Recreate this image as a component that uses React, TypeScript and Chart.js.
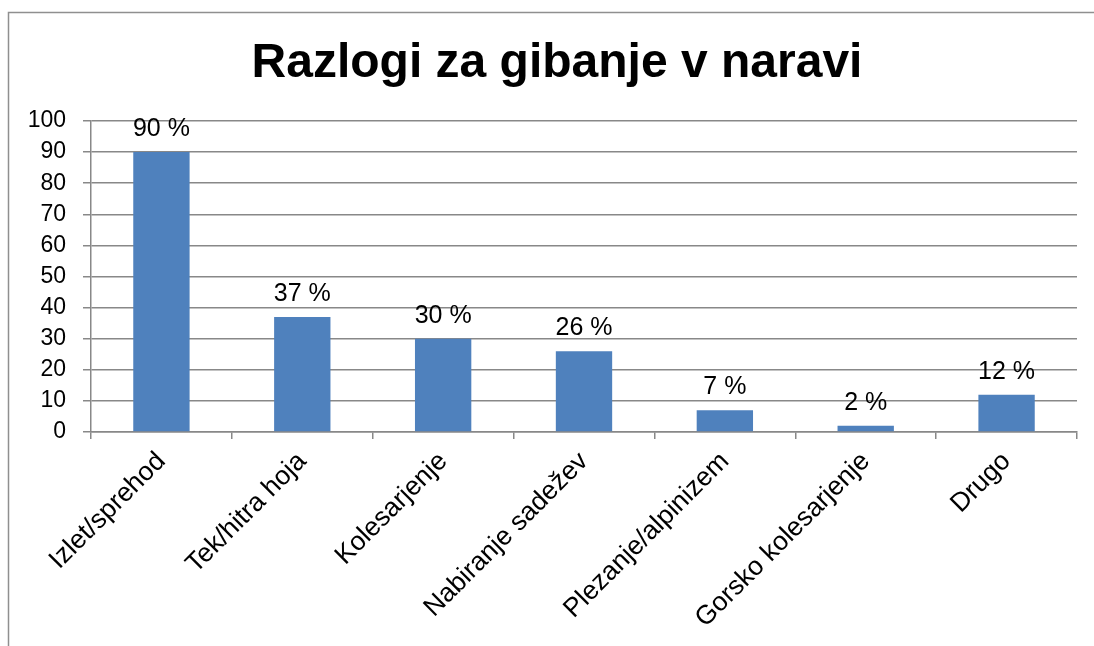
import { useEffect, useRef } from "react";
import { Chart, registerables } from "chart.js";

Chart.register(...registerables);

const TITLE = "Razlogi za gibanje v naravi";
const categories = [
  "Izlet/sprehod",
  "Tek/hitra hoja",
  "Kolesarjenje",
  "Nabiranje sadežev",
  "Plezanje/alpinizem",
  "Gorsko kolesarjenje",
  "Drugo",
];
const values = [90, 37, 30, 26, 7, 2, 12];
const yMin = 0;
const yMax = 100;
const yStep = 10;

const FONT = '"Liberation Sans", Arial, Helvetica, sans-serif';
const GRID = "#888888";
const BAR = "#4F81BD";

const framePlugin = {
  id: "frameAndTitle",
  beforeDraw(chart: any) {
    const ctx = chart.ctx;
    ctx.save();
    ctx.fillStyle = "#ffffff";
    ctx.fillRect(0, 0, chart.width, chart.height);
    ctx.strokeStyle = "#8f8f8f";
    ctx.lineWidth = 1.5;
    ctx.beginPath();
    ctx.moveTo(8.5, chart.height);
    ctx.lineTo(8.5, 12.5);
    ctx.lineTo(chart.width, 12.5);
    ctx.stroke();
    ctx.fillStyle = "#000000";
    ctx.font = `bold 48px ${FONT}`;
    ctx.textAlign = "center";
    ctx.textBaseline = "alphabetic";
    ctx.fillText(TITLE, 557, 77);
    ctx.restore();
  },
};

const labelPlugin = {
  id: "valueLabels",
  afterDatasetsDraw(chart: any) {
    const ctx = chart.ctx;
    const meta = chart.getDatasetMeta(0);
    ctx.save();
    ctx.fillStyle = "#000000";
    ctx.font = `25px ${FONT}`;
    ctx.textAlign = "center";
    ctx.textBaseline = "alphabetic";
    meta.data.forEach((bar: any, i: number) => {
      ctx.fillText(`${values[i]} %`, bar.x, bar.y - 16);
    });
    ctx.restore();
  },
};

export default function App() {
  const ref = useRef<HTMLCanvasElement | null>(null);
  useEffect(() => {
    if (!ref.current) return;
    const chart = new Chart(ref.current, {
      type: "bar",
      data: {
        labels: categories,
        datasets: [
          {
            data: values,
            backgroundColor: BAR,
            borderWidth: 0,
            barPercentage: 0.4,
            categoryPercentage: 1,
          },
        ],
      },
      options: {
        responsive: false,
        animation: false,
        layout: { padding: { left: 8, right: 17, top: 121, bottom: 0 } },
        plugins: {
          legend: { display: false },
          title: { display: false },
          tooltip: { enabled: false },
        },
        scales: {
          x: {
            grid: {
              display: true,
              drawOnChartArea: false,
              drawTicks: true,
              tickLength: 7,
              color: GRID,
              lineWidth: 1.5,
              offset: true,
            },
            border: { display: true, color: GRID, width: 1.5 },
            ticks: {
              color: "#000000",
              font: { family: FONT, size: 26.5 },
              minRotation: 45,
              maxRotation: 45,
              autoSkip: false,
              padding: 7,
            },
            afterFit(scale: any) {
              scale.height = 214;
            },
          },
          y: {
            min: yMin,
            max: yMax,
            grid: {
              color: GRID,
              lineWidth: 1.5,
              drawTicks: true,
              tickLength: 8,
            },
            border: { display: true, color: GRID, width: 1.5 },
            ticks: {
              stepSize: yStep,
              color: "#000000",
              font: { family: FONT, size: 23 },
              padding: 17,
            },
            afterFit(scale: any) {
              scale.width = 83;
            },
          },
        },
      },
      plugins: [framePlugin, labelPlugin],
    });
    return () => chart.destroy();
  }, []);
  return (
    <div style={{ position: "absolute", left: 0, top: 0, width: 1094, height: 646 }}>
      <canvas ref={ref} width={1094} height={646} style={{ display: "block" }} />
    </div>
  );
}
